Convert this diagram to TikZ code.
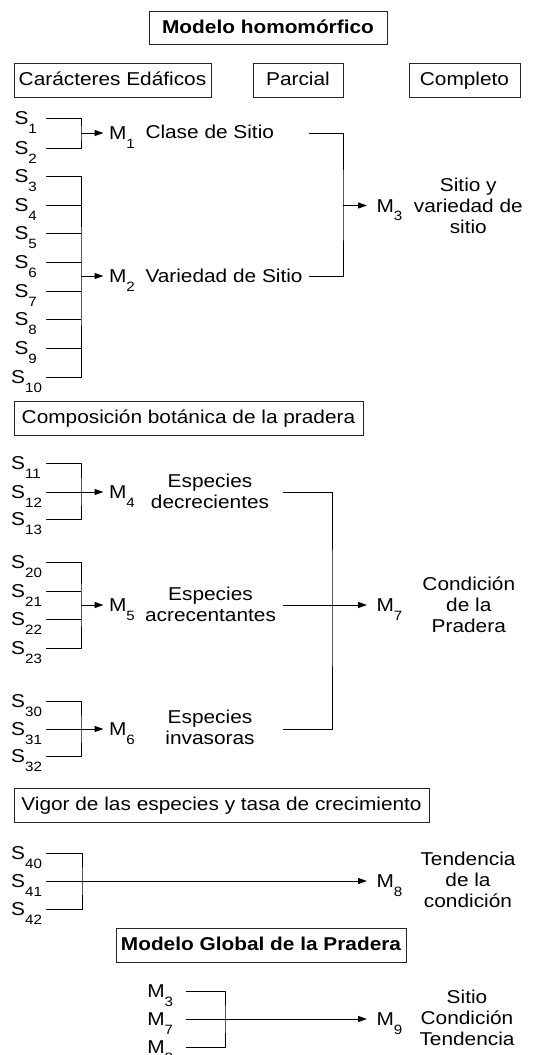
\documentclass[tikz,border=0pt]{standalone}
\usepackage{fontspec}
\setmainfont{Liberation Sans}[FakeStretch=1.12]
\usetikzlibrary{arrows.meta}
\newcommand\lowidx[1]{\raisebox{-8.5pt}{\fontsize{13.5}{14}\selectfont #1}}
\newcommand\topstrut{\rule{0pt}{18pt}}
\tikzset{
  lab/.style={anchor=west, inner sep=0pt, text height=13.3pt, text depth=0pt},
  box/.style={draw=black!85, line width=1pt, inner sep=0pt, minimum height=34pt, text height=13.3pt, text depth=2pt},
  bold/.style={font=\fontsize{18.6}{21}\selectfont\bfseries},
  desc/.style={anchor=north, align=center, inner sep=0pt, text depth=0pt},
  arr/.style={-{Triangle[length=9pt,width=6pt]}, shorten >=5pt},
  arrr/.style={-{Triangle[length=9pt,width=6pt]}, shorten >=9pt},
}
\begin{document}
\begin{tikzpicture}[x=1pt,y=-1pt,line width=1pt,font=\fontsize{18.6}{21}\selectfont]
\useasboundingbox (0,0) rectangle (533,1055);

% headings
\node[box,bold,minimum width=238pt,minimum height=33pt] (hom) at (268,27.5) {Modelo homomórfico};
\node[box,minimum width=197pt] (eda) at (112.5,80) {Carácteres Edáficos};
\node[box,minimum width=90pt] (par) at (298,80) {Parcial};
\node[box,minimum width=111pt] (com) at (464.5,80) {Completo};

% edaficos
\node[lab] (s1) at (14,118) {S\lowidx{1}};
\node[lab] (s2) at (14,148) {S\lowidx{2}};
\node[lab] (s3) at (14,176) {S\lowidx{3}};
\node[lab] (s4) at (14,205) {S\lowidx{4}};
\node[lab] (s5) at (14,233) {S\lowidx{5}};
\node[lab] (s6) at (14,262) {S\lowidx{6}};
\node[lab] (s7) at (14,291) {S\lowidx{7}};
\node[lab] (s8) at (14,319) {S\lowidx{8}};
\node[lab] (s9) at (14,348) {S\lowidx{9}};
\node[lab] (s10) at (10.7,377) {S\lowidx{10}};
\coordinate (lx) at (46,0);

\coordinate (j1) at (81,133);
\coordinate (j2) at (81,276);
\node[lab] (m1) at (108.5,133) {M\lowidx{1}};
\node[lab] (m2) at (108.5,276) {M\lowidx{2}};
\node[lab] (t1) at (145,132) {Clase de Sitio};
\node[lab] (t2) at (145,275.5) {Variedad de Sitio};

\draw (s1 -| lx) -| (j1) |- (s2 -| lx);
\draw (s3 -| lx) -| (j2) |- (s10 -| lx);
\draw (s4 -| lx) -- (s4 -| j2);
\draw (s5 -| lx) -- (s5 -| j2);
\draw (s6 -| lx) -- (s6 -| j2);
\draw (s7 -| lx) -- (s7 -| j2);
\draw (s8 -| lx) -- (s8 -| j2);
\draw (s9 -| lx) -- (s9 -| j2);
\draw[arr] (j1) -- (m1);
\draw[arr] (j2) -- (m2);

\coordinate (r1) at (309,133);
\coordinate (r2) at (309,276);
\coordinate (j3) at (343,205.5);
\node[lab] (m3) at (376,205.5) {M\lowidx{3}};
\node[desc] (d3) at (468.3,173) {\topstrut Sitio y\\variedad de\\sitio};
\draw (r1) -| (j3) |- (r2);
\draw[arrr] (j3) -- (m3);

% composicion botanica
\node[box,minimum width=349pt] (bot) at (188.5,418) {Composición botánica de la pradera};
\node[lab] (s11) at (10.7,463) {S\lowidx{11}};
\node[lab] (s12) at (10.7,492) {S\lowidx{12}};
\node[lab] (s13) at (10.7,519) {S\lowidx{13}};
\node[lab] (s20) at (10.7,562) {S\lowidx{20}};
\node[lab] (s21) at (10.7,591) {S\lowidx{21}};
\node[lab] (s22) at (10.7,619) {S\lowidx{22}};
\node[lab] (s23) at (10.7,648) {S\lowidx{23}};
\node[lab] (s30) at (10.7,701) {S\lowidx{30}};
\node[lab] (s31) at (10.7,729) {S\lowidx{31}};
\node[lab] (s32) at (10.7,756) {S\lowidx{32}};

\coordinate (j4) at (81,492);
\coordinate (j5) at (81,605);
\coordinate (j6) at (81,729);
\node[lab] (m4) at (108.5,492) {M\lowidx{4}};
\node[lab] (m5) at (108.5,605) {M\lowidx{5}};
\node[lab] (m6) at (108.5,729) {M\lowidx{6}};
\node[desc] (d4) at (210,469.3) {\topstrut Especies\\decrecientes};
\node[desc] (d5) at (210.5,582) {\topstrut Especies\\acrecentantes};
\node[desc] (d6) at (210,705.3) {\topstrut Especies\\invasoras};

\draw (s11 -| lx) -| (j4) |- (s13 -| lx);
\draw[arr] (s12 -| lx) -- (m4);
\draw (s20 -| lx) -| (j5) |- (s23 -| lx);
\draw (s21 -| lx) -- (s21 -| j5);
\draw (s22 -| lx) -- (s22 -| j5);
\draw[arr] (j5) -- (m5);
\draw (s30 -| lx) -| (j6) |- (s32 -| lx);
\draw[arr] (s31 -| lx) -- (m6);

\coordinate (r4) at (283,492);
\coordinate (r5) at (283,605);
\coordinate (r6) at (283,729);
\coordinate (j7) at (332,605);
\node[lab] (m7) at (376,605) {M\lowidx{7}};
\node[desc] (d7) at (468.8,572) {\topstrut Condición\\de la\\Pradera};
\draw (r4) -| (j7) |- (r6);
\draw[arrr] (r5) -- (m7);

% vigor
\node[box,minimum width=415pt] (vig) at (221.5,805) {Vigor de las especies y tasa de crecimiento};
\node[lab] (s40) at (10.7,853) {S\lowidx{40}};
\node[lab] (s41) at (10.7,881) {S\lowidx{41}};
\node[lab] (s42) at (10.7,909) {S\lowidx{42}};
\coordinate (j8) at (82,881);
\node[lab] (m8) at (376,881) {M\lowidx{8}};
\node[desc] (d8) at (468,847) {\topstrut Tendencia\\de la\\condición};
\draw (s40 -| lx) -| (j8) |- (s42 -| lx);
\draw[arrr] (s41 -| lx) -- (m8);

% global
\node[box,bold,minimum width=290pt] (glo) at (261,945) {Modelo Global de la Pradera};
\node[lab] (g3) at (146.8,991) {M\lowidx{3}};
\node[lab] (g7) at (146.8,1019) {M\lowidx{7}};
\node[lab] (g8) at (146.8,1047) {M\lowidx{8}};
\coordinate (gx) at (186,0);
\coordinate (j9) at (225,1019);
\node[lab] (m9) at (376,1019) {M\lowidx{9}};
\node[desc] (d9) at (467,985.3) {\topstrut Sitio\\Condición\\Tendencia};
\draw (g3 -| gx) -| (j9) |- (g8 -| gx);
\draw[arrr] (g7 -| gx) -- (m9);
\end{tikzpicture}
\end{document}
